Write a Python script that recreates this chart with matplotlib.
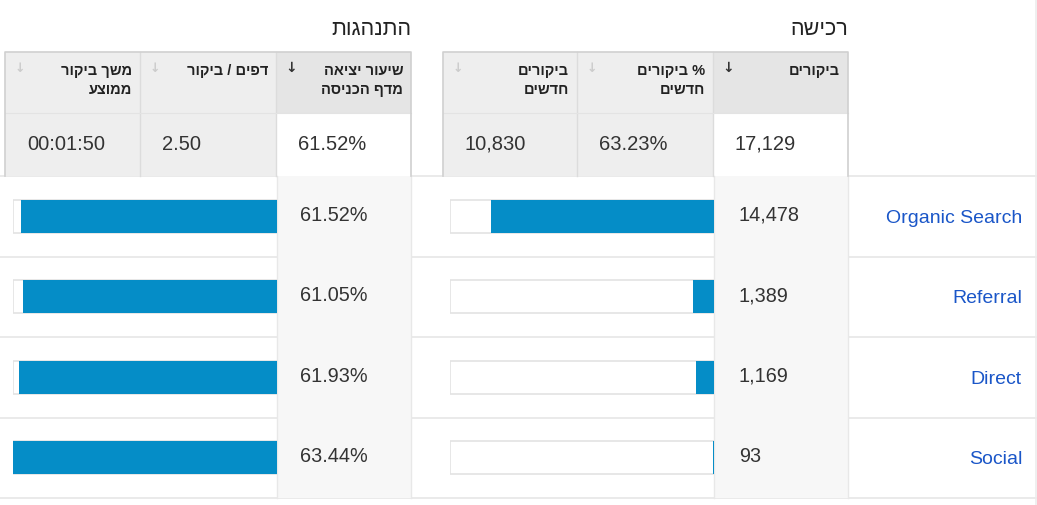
import matplotlib
matplotlib.use("Agg")
import matplotlib.pyplot as plt
from matplotlib.patches import Rectangle

# ---- data ----
channels = ["Organic Search", "Referral", "Direct", "Social"]
visits = [14478, 1389, 1169, 93]
bounce_rate = [61.52, 61.05, 61.93, 63.44]

total_visits = 17129
total_pct_new = 63.23
total_new_visits = 10830
total_bounce = 61.52
total_pages_per_visit = 2.50
total_avg_duration = "00:01:50"

title_acq = "רכישה"
title_beh = "התנהגות"
acq_headers = [["ביקורים"], ["% ביקורים", "חדשים"], ["ביקורים", "חדשים"]]
beh_headers = [["שיעור יציאה", "מדף הכניסה"], ["דפים / ביקור"], ["משך ביקור", "ממוצע"]]


def heb(s):
    # visual order for right-to-left text
    return s[::-1]


FONT = ["Liberation Sans", "DejaVu Sans"]
plt.rcParams["font.family"] = FONT

W, H = 1037, 506
fig = plt.figure(figsize=(W / 100, H / 100), dpi=100)
base = fig.add_axes([0, 0, 1, 1])
base.set_xlim(0, W)
base.set_ylim(H, 0)
base.axis("off")

TXT = "#333333"
BLUE_BAR = "#058dc7"
LINK = "#1a56c8"
LINE = "#e6e6e6"

row_top = 177.0
row_h = 80.5
n = len(channels)
rows_bottom = row_top + n * row_h

# row separator lines
for i in range(n + 1):
    y = row_top + i * row_h
    base.plot([0, W], [y, y], color=LINE, lw=1.2, zorder=1)
base.plot([1035.5, 1035.5], [0, H], color="#ececec", lw=1.2, zorder=1)

# gray sorted columns in body
for x0, x1 in [(714, 848), (277, 411)]:
    base.add_patch(Rectangle((x0, row_top - 1), x1 - x0, rows_bottom - row_top + 1,
                             facecolor="#f7f7f7", edgecolor="none", zorder=2))
    base.plot([x0, x0], [row_top, rows_bottom], color="#e8e8e8", lw=1, zorder=3)
    base.plot([x1, x1], [row_top, rows_bottom], color="#e8e8e8", lw=1, zorder=3)

# header tables
hdr_top, hdr_mid, hdr_bot = 52.5, 113.5, 176.5


def header_table(cols, headers, values):
    # cols: list of (x0, x1) from right to left; first column is sorted
    for j, ((x0, x1), lines, val) in enumerate(zip(cols, headers, values)):
        sorted_col = (j == 0)
        base.add_patch(Rectangle((x0, hdr_top), x1 - x0, hdr_mid - hdr_top,
                                 facecolor="#e5e5e5" if sorted_col else "#eeeeee",
                                 edgecolor="none", zorder=2))
        base.add_patch(Rectangle((x0, hdr_mid), x1 - x0, hdr_bot - hdr_mid,
                                 facecolor="white" if sorted_col else "#eeeeee",
                                 edgecolor="none", zorder=2))
        for k, line in enumerate(lines):
            base.text(x1 - 8, 71 + k * 18.5, heb(line), ha="right", va="center",
                      fontsize=10.5, fontweight="bold", color="#222222", zorder=5)
        base.text(x0 + 15, 68, "↓", ha="center", va="center",
                  fontsize=10 if sorted_col else 9, fontweight="bold",
                  color="#333333" if sorted_col else "#cccccc",
                  family="DejaVu Sans", zorder=5)
        base.text(x0 + 22, 144, val, ha="left", va="center", fontsize=14.5,
                  color=TXT, zorder=5)
    xs = sorted(set([c[0] for c in cols] + [c[1] for c in cols]))
    for x in xs[1:-1]:
        base.plot([x, x], [hdr_top, hdr_bot], color="#dcdcdc", lw=1, zorder=3)
    base.plot([xs[0], xs[-1]], [hdr_mid, hdr_mid], color="#e3e3e3", lw=0.8, zorder=3)
    # open-bottomed outline
    base.plot([xs[0], xs[0], xs[-1], xs[-1]], [hdr_bot, hdr_top, hdr_top, hdr_bot],
              color="#d0d0d0", lw=1.2, zorder=4, solid_joinstyle="round")


header_table([(713, 848), (577, 713), (443, 577)], acq_headers,
             [f"{total_visits:,}", f"{total_pct_new:.2f}%", f"{total_new_visits:,}"])
header_table([(276, 411), (140, 276), (5, 140)], beh_headers,
             [f"{total_bounce:.2f}%", f"{total_pages_per_visit:.2f}", total_avg_duration])

base.text(848, 29, heb(title_acq), ha="right", va="center", fontsize=15.5, color="#222222")
base.text(411, 29, heb(title_beh), ha="right", va="center", fontsize=15.5, color="#222222")


# ---- bar columns ----
def bar_axes(x0, x1, vals, vmax):
    ax = fig.add_axes([x0 / W, 1 - rows_bottom / H, (x1 - x0) / W, (rows_bottom - row_top) / H])
    ax.set_xlim(vmax, 0)
    ax.set_ylim(n - 0.5, -0.5)
    ax.axis("off")
    ax.patch.set_alpha(0)
    ypos = list(range(n))
    ax.barh(ypos, [vmax] * n, height=0.41, color="white", edgecolor="#e3e3e3",
            linewidth=1.2, zorder=1)
    ax.barh(ypos, vals, height=0.41, color=BLUE_BAR, edgecolor="none", zorder=2)
    return ax


bar_axes(450, 714, visits, total_visits)
bar_axes(13, 277, bounce_rate, max(bounce_rate))

# ---- row texts ----
for i, (ch, v, b) in enumerate(zip(channels, visits, bounce_rate)):
    yc = row_top + (i + 0.5) * row_h
    base.text(1022, yc + 1, ch, ha="right", va="center", fontsize=14, color=LINK, zorder=5)
    base.text(739, yc - 2, f"{v:,}", ha="left", va="center", fontsize=14.3, color=TXT, zorder=5)
    base.text(300, yc - 2, f"{b:.2f}%", ha="left", va="center", fontsize=14.3, color=TXT, zorder=5)

fig.savefig("out.png", dpi=100, facecolor="white")
